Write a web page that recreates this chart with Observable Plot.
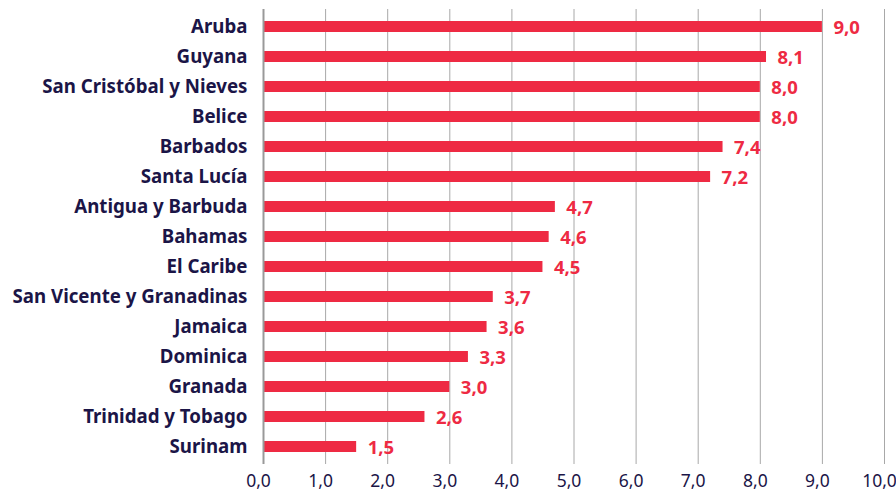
<!DOCTYPE html>
<html><head><meta charset="utf-8">
<script src="https://cdn.jsdelivr.net/npm/d3@7"></script>
<script src="https://cdn.jsdelivr.net/npm/@observablehq/plot@0.6"></script>
<style>body{margin:0;background:#fff;}</style>
</head><body><div id="chart"></div>
<script>
const countries = ["Aruba","Guyana","San Cristóbal y Nieves","Belice","Barbados","Santa Lucía","Antigua y Barbuda","Bahamas","El Caribe","San Vicente y Granadinas","Jamaica","Dominica","Granada","Trinidad y Tobago","Surinam"];
const values = [9.0,8.1,8.0,8.0,7.4,7.2,4.7,4.6,4.5,3.7,3.6,3.3,3.0,2.6,1.5];
const xTicks = [0,1,2,3,4,5,6,7,8,9,10];

const data = countries.map((c,i)=>({country:c, value:values[i]}));
const fmt = d => d.toFixed(1).replace(".", ",");
const red = "#ee2a43", navy = "#1b1547";

const chart = Plot.plot({
  width: 896, height: 494,
  marginLeft: 263, marginRight: 12, marginTop: 9, marginBottom: 30,
  style: {fontFamily: "Noto Sans", background: "#fff"},
  x: {domain:[0,10], ticks: xTicks},
  y: {domain: countries, paddingInner: 0.64, paddingOuter: 0.32, label: null},
  marks: [
    Plot.gridX(xTicks, {stroke:"#a8a8a8", strokeOpacity:1, strokeWidth:1}),
    Plot.barX(data, {y:"country", x:"value", fill:red}),
    Plot.ruleX([0], {stroke:"#999", strokeWidth:2}),
    Plot.text(data, {y:"country", x:"value", text:d=>fmt(d.value), textAnchor:"start", dx:11, dy:1, fill:red, fontWeight:"bold", fontSize:18.5}),
    Plot.axisY({tickSize:0, tickPadding:16, fontSize:18.7, fontWeight:"bold", fill:navy, label:null}),
    Plot.axisX(xTicks, {tickSize:0, tickPadding:10, dx:-5, fontSize:17.5, fill:navy, tickFormat:fmt, label:null})
  ]
});
document.getElementById("chart").appendChild(chart);
</script></body></html>
